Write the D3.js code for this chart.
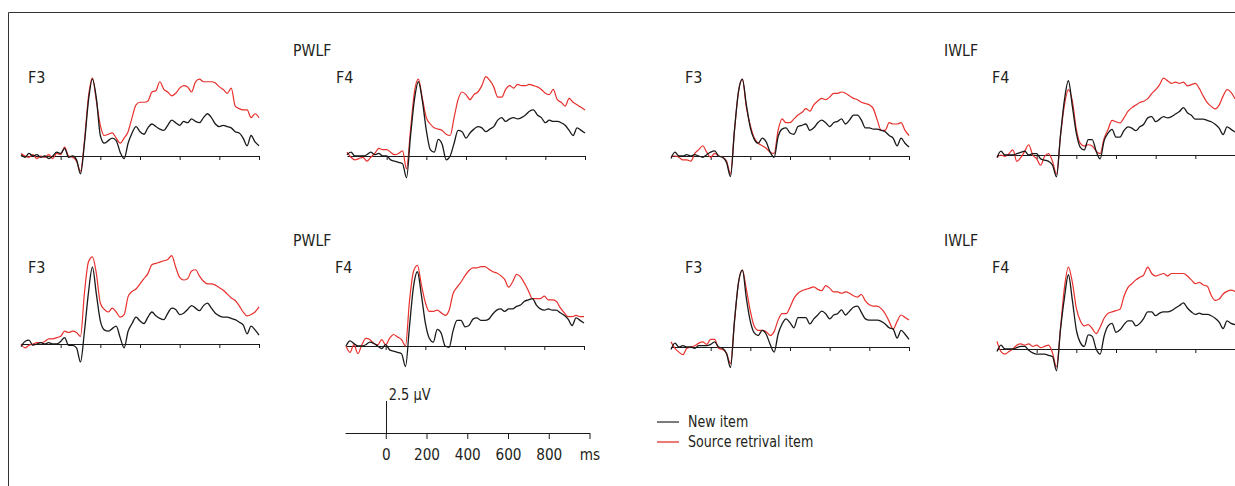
<!DOCTYPE html>
<html>
<head>
<meta charset="utf-8">
<script src="https://cdn.jsdelivr.net/npm/d3@7.9.0/dist/d3.min.js"></script>
<style>
  html, body { margin: 0; padding: 0; background: #fff; }
  svg { display: block; font-family: "Liberation Sans Narrow", "Arial Narrow", "DejaVu Sans Condensed", sans-serif; }
</style>
</head>
<body>
<svg id="chart" width="1235" height="486"></svg>
<script>
// --- data: ERP waveforms (µV), sampled every 20 ms from -200 to 1000 ms ---
const times = d3.range(-200, 1001, 20);
const tickTimes = [0, 200, 400, 600, 800, 1000];
const scaleTickLabels = ['0', '200', '400', '600', '800', 'ms'];
const conditions = ['PWLF', 'IWLF'];
const electrodes = ['F3', 'F4'];
const seriesNames = ['New item', 'Source retrival item'];
const scaleBarValue = 2.5;

// row 1
const r1PwlfF3New = [0.1, -0.1, 0.2, 0.0, 0.1, -0.1, 0.0, -0.2, 0.0, 0.3,
  0.2, 0.6, -0.1, 0.0, -0.3, -1.4, 1.0, 4.3, 6.0, 4.5,
  1.6, 1.0, 1.2, 1.4, 1.2, 0.3, -0.2, 1.0, 1.8, 2.3,
  1.9, 1.7, 2.2, 2.5, 2.3, 2.1, 2.0, 2.4, 2.8, 2.6,
  2.4, 2.7, 2.6, 2.9, 2.7, 2.6, 3.0, 3.3, 3.0, 2.5,
  2.3, 2.4, 2.3, 2.2, 1.9, 1.8, 1.4, 0.8, 1.6, 1.1, 0.8];
const r1PwlfF3Source = [0.2, 0.0, -0.1, 0.1, -0.2, 0.0, -0.1, 0.1, -0.2, 0.2,
  0.1, 0.7, 0.0, -0.1, -0.4, -1.2, 1.2, 4.6, 6.1, 4.3,
  2.4, 1.6, 1.7, 1.8, 1.4, 1.0, 1.4, 1.9, 3.0, 4.0,
  4.2, 4.2, 4.3, 5.0, 5.1, 5.8, 5.2, 5.0, 4.7, 4.9,
  5.3, 5.5, 5.4, 5.0, 5.8, 6.0, 5.8, 5.8, 5.8, 5.7,
  5.4, 5.2, 4.9, 5.3, 3.9, 3.7, 3.6, 3.6, 3.0, 3.3, 3.0];
const r1PwlfF4New = [0.1, 0.3, 0.0, 0.0, 0.0, 0.1, 0.3, 0.1, 0.2, 0.0,
  0.0, -0.3, -0.4, -0.5, -0.6, -1.7, 1.5, 4.4, 5.8, 4.3,
  2.0, 0.5, 0.3, 1.3, 0.9, -0.3, 0.0, 1.0, 2.0, 1.9,
  1.4, 1.8, 2.1, 2.3, 2.2, 1.9, 2.1, 2.3, 2.8, 3.0,
  2.7, 2.9, 3.0, 2.9, 3.0, 3.2, 3.5, 3.6, 3.2, 3.0,
  2.6, 2.8, 2.7, 2.7, 2.6, 2.4, 2.0, 1.6, 2.2, 2.0, 1.8];
const r1PwlfF4Source = [0.3, -0.1, -0.3, -0.2, -0.1, -0.4, -0.1, 0.2, 0.6, 0.5,
  0.5, 0.3, 0.1, 0.2, 0.4, -1.0, 2.0, 5.0, 6.0, 4.5,
  3.0, 2.5, 2.2, 2.1, 2.0, 1.7, 1.6, 3.0, 4.4, 5.0,
  4.8, 4.4, 4.8, 5.0, 5.5, 6.2, 5.9, 5.4, 4.6, 4.6,
  5.2, 5.5, 5.3, 5.6, 5.5, 5.5, 5.6, 5.5, 5.4, 5.2,
  4.9, 4.8, 5.2, 4.4, 4.2, 3.9, 4.5, 4.2, 4.0, 3.8, 3.6];
const r1IwlfF3New = [-0.2, 0.3, 0.0, 0.0, 0.1, 0.0, 0.1, 0.0, -0.1, 0.1,
  0.3, 0.4, 0.0, -0.1, -0.5, -1.6, 2.0, 5.0, 6.0, 4.0,
  2.2, 1.3, 1.0, 1.4, 1.1, 0.3, -0.1, 1.5, 2.1, 2.2,
  1.8, 1.7, 2.3, 2.4, 2.5, 2.0, 2.2, 2.6, 2.8, 2.6,
  2.3, 2.6, 2.7, 2.9, 2.5, 2.8, 3.2, 3.2, 2.8, 2.2,
  2.2, 2.1, 2.1, 2.0, 1.9, 1.6, 1.4, 0.8, 1.4, 1.0, 0.7];
const r1IwlfF3Source = [0.0, 0.0, -0.1, -0.3, -0.3, -0.4, 0.2, 0.5, 0.8, 0.3,
  -0.1, 0.2, 0.0, -0.1, -0.4, -1.4, 2.0, 5.0, 6.0, 3.8,
  2.4, 1.4, 1.0, 0.8, 0.6, 0.3, 0.2, 2.0, 2.9, 2.6,
  2.6, 2.9, 3.2, 3.4, 3.7, 3.5, 4.0, 4.3, 4.5, 4.4,
  4.6, 4.9, 4.9, 5.0, 4.9, 4.7, 4.5, 4.4, 4.2, 4.1,
  4.0, 3.7, 2.8, 2.0, 2.0, 2.6, 2.5, 2.5, 2.6, 2.0, 1.6];
const r1IwlfF4New = [-0.2, 0.3, 0.0, 0.0, 0.0, 0.1, 0.2, 0.3, 0.0, 0.1,
  0.1, -0.3, -0.4, -0.5, -0.8, -1.7, 1.5, 4.3, 5.8, 3.8,
  1.7, 0.6, 0.4, 1.2, 1.2, 0.3, -0.3, 1.1, 1.7, 2.0,
  1.4, 1.4, 1.9, 2.2, 2.1, 1.9, 2.2, 2.4, 2.9, 3.0,
  2.6, 2.8, 3.0, 2.9, 3.0, 3.2, 3.4, 3.7, 3.3, 3.1,
  2.8, 2.8, 2.8, 2.7, 2.6, 2.4, 2.1, 1.6, 2.2, 2.0, 1.8];
const r1IwlfF4Source = [-0.2, 0.0, -0.1, 0.1, 0.4, -0.5, -0.2, 0.3, 0.8, 0.0,
  -0.3, -0.8, -0.1, 0.1, -0.5, -1.5, 1.5, 3.9, 5.1, 4.2,
  2.0, 0.9, 0.7, 0.8, 0.7, 0.3, 0.1, 1.3, 2.0, 2.7,
  2.6, 2.5, 2.9, 3.4, 3.7, 3.9, 4.1, 4.2, 4.4, 4.8,
  5.1, 5.5, 6.0, 5.8, 5.6, 5.7, 5.6, 5.7, 5.4, 5.5,
  5.6, 5.2, 4.6, 4.1, 3.8, 3.6, 3.9, 4.6, 5.1, 4.9, 4.4];

// row 2
const r2PwlfF3New = [-0.2, 0.2, 0.3, -0.1, 0.0, 0.1, 0.0, 0.1, 0.0, 0.0,
  0.2, 0.5, -0.1, -0.1, -0.3, -1.4, 1.0, 4.0, 6.0, 3.9,
  1.8, 1.1, 1.0, 1.2, 1.4, 0.5, -0.3, 1.0, 1.6, 2.1,
  1.8, 1.6, 2.1, 2.5, 2.2, 2.0, 1.9, 2.4, 2.8, 2.7,
  2.3, 2.4, 2.7, 3.0, 2.8, 2.6, 3.0, 3.2, 2.8, 2.4,
  2.2, 2.1, 2.1, 2.0, 1.9, 1.7, 1.5, 0.8, 1.4, 1.1, 0.7];
const r2PwlfF3Source = [0.0, -0.3, -0.1, 0.0, 0.1, 0.1, 0.2, 0.4, 0.4, 0.5,
  0.6, 1.0, 0.9, 1.0, 0.9, 0.6, 4.0, 6.4, 6.8, 5.5,
  3.2, 2.7, 2.5, 2.8, 2.5, 2.1, 2.3, 3.7, 4.1, 4.3,
  4.7, 5.1, 5.5, 6.2, 6.3, 6.4, 6.5, 6.6, 6.9, 6.0,
  5.2, 5.0, 5.1, 5.7, 5.8, 5.3, 4.9, 4.7, 4.7, 4.6,
  4.4, 4.2, 3.9, 3.6, 3.4, 3.0, 2.5, 2.2, 2.3, 2.5, 2.9];
const r2PwlfF4New = [0.0, 0.4, 0.2, 0.0, 0.0, 0.1, 0.3, 0.2, 0.0, -0.2,
  0.1, -0.3, -0.4, -0.5, -0.6, -1.6, 1.5, 4.6, 5.8, 4.0,
  1.8, 0.6, 0.3, 1.3, 1.0, 0.0, -0.1, 1.2, 2.0, 2.0,
  1.5, 1.6, 2.1, 2.2, 2.0, 2.0, 2.1, 2.5, 2.8, 2.9,
  2.7, 2.9, 2.9, 3.1, 3.2, 3.5, 3.6, 3.7, 3.2, 2.9,
  2.8, 2.9, 2.8, 2.8, 2.6, 2.4, 2.1, 1.6, 2.2, 2.0, 1.8];
const r2PwlfF4Source = [0.0, -0.5, 0.1, -0.6, 0.1, 0.6, 0.5, 0.2, 0.1, 0.5,
  0.1, 0.6, 0.9, 0.7, 0.5, 0.0, 3.5, 5.8, 6.3, 4.8,
  3.4, 2.7, 2.7, 2.8, 2.6, 2.4, 2.8, 4.1, 4.6, 5.0,
  5.5, 5.9, 6.1, 6.1, 6.2, 6.2, 6.0, 5.8, 5.7, 5.5,
  5.2, 4.6, 5.0, 5.6, 5.4, 4.9, 4.3, 3.7, 3.7, 3.7,
  3.9, 3.6, 3.6, 3.5, 3.0, 2.6, 2.3, 2.3, 2.4, 2.3, 2.3];
const r2IwlfF3New = [-0.2, 0.3, 0.0, 0.1, 0.0, 0.0, -0.1, 0.1, 0.1, 0.1,
  0.2, 0.4, 0.0, -0.1, -0.5, -1.6, 2.0, 5.0, 6.0, 3.8,
  2.0, 1.1, 0.9, 1.3, 1.0, 0.2, -0.4, 1.0, 1.8, 2.2,
  1.9, 1.5, 2.3, 2.3, 2.3, 1.8, 2.2, 2.5, 2.8, 2.6,
  2.2, 2.5, 2.6, 2.9, 2.5, 2.8, 3.1, 3.2, 2.7, 2.2,
  2.1, 2.1, 2.1, 2.0, 1.8, 1.5, 1.4, 0.7, 1.3, 1.0, 0.6];
const r2IwlfF3Source = [0.4, -0.1, -0.4, -0.6, -0.1, 0.0, 0.1, 0.3, 0.4, 0.2,
  0.6, 0.6, -0.1, -0.2, -0.5, -1.3, 2.0, 5.0, 6.0, 4.5,
  2.8, 1.6, 1.3, 1.3, 1.2, 0.9, 1.2, 2.1, 2.6, 2.6,
  3.1, 3.8, 4.2, 4.4, 4.5, 4.6, 4.7, 4.5, 4.4, 4.8,
  4.6, 4.3, 4.3, 4.2, 4.3, 4.2, 4.0, 3.9, 4.1, 3.6,
  3.3, 3.2, 3.2, 3.0, 2.6, 2.0, 1.4, 2.0, 2.5, 2.3, 2.1];
const r2IwlfF4New = [-0.2, 0.3, 0.0, 0.0, 0.0, 0.1, 0.2, 0.2, -0.1, -0.3,
  -0.4, -0.4, -0.4, -0.5, -0.6, -1.7, 1.5, 4.0, 5.8, 3.8,
  1.5, 0.5, 0.2, 1.1, 1.0, 0.0, -0.4, 1.0, 1.8, 2.0,
  1.3, 1.5, 1.9, 2.2, 2.2, 1.8, 2.0, 2.4, 2.9, 2.9,
  2.6, 2.8, 2.9, 2.9, 3.0, 3.2, 3.4, 3.6, 3.2, 2.9,
  2.7, 2.8, 2.7, 2.7, 2.6, 2.4, 2.1, 1.6, 2.2, 2.0, 1.9];
const r2IwlfF4Source = [0.6, -0.2, -0.4, -0.2, 0.0, 0.3, 0.4, 0.3, 0.4, 0.2,
  0.3, 0.1, 0.2, 0.3, -0.3, -1.4, 1.6, 4.8, 6.4, 5.2,
  3.2, 2.2, 1.8, 1.9, 1.6, 1.2, 1.7, 2.4, 2.8, 2.9,
  3.0, 3.1, 4.1, 4.8, 5.1, 5.4, 5.6, 5.8, 6.4, 5.9,
  5.7, 5.8, 5.9, 5.7, 5.9, 5.9, 5.9, 5.9, 5.7, 5.4,
  5.1, 5.2, 5.0, 4.9, 4.2, 3.8, 3.9, 4.3, 4.5, 4.6, 4.5];

// --- layout ---
const W = 1235, H = 486;
const pxPerUv = 12.8;
const panelWidth = 238;
const textColor = '#231f20';
const newColor = '#1a1a1a';
const srcColor = '#e8302c';

const panels = [
  { label: electrodes[0], x0: 21,  y0: 156, newData: r1PwlfF3New, srcData: r1PwlfF3Source },
  { label: electrodes[1], x0: 347, y0: 156, newData: r1PwlfF4New, srcData: r1PwlfF4Source },
  { label: electrodes[0], x0: 671, y0: 156, newData: r1IwlfF3New, srcData: r1IwlfF3Source },
  { label: electrodes[1], x0: 997, y0: 155, newData: r1IwlfF4New, srcData: r1IwlfF4Source },
  { label: electrodes[0], x0: 21,  y0: 344, newData: r2PwlfF3New, srcData: r2PwlfF3Source },
  { label: electrodes[1], x0: 346, y0: 346, newData: r2PwlfF4New, srcData: r2PwlfF4Source },
  { label: electrodes[0], x0: 671, y0: 347, newData: r2IwlfF3New, srcData: r2IwlfF3Source },
  { label: electrodes[1], x0: 997, y0: 349, newData: r2IwlfF4New, srcData: r2IwlfF4Source }
];
const labelOffsets = [7, -11, 14, -5];   // electrode label x relative to panel start
const rowLabelY = [83, 273];
const conditionLabels = [
  { text: conditions[0], x: 293, y: 56 },
  { text: conditions[1], x: 944, y: 56 },
  { text: conditions[0], x: 293, y: 246 },
  { text: conditions[1], x: 944, y: 246 }
];

const svg = d3.select('#chart');

// narrow text: the fallback condensed font is wider than the original, squeeze it a little
function addText(x, y, str, squeeze = 1) {
  return svg.append('text')
    .attr('transform', `translate(${x},${y}) scale(${squeeze},1)`)
    .attr('font-size', 16)
    .attr('fill', textColor)
    .text(str);
}

// frame
svg.append('path')
  .attr('d', `M8.5,${H}V12.5H${W}`)
  .attr('fill', 'none')
  .attr('stroke', '#333')
  .attr('stroke-width', 1);

conditionLabels.forEach(c => addText(c.x, c.y, c.text, 0.98));

panels.forEach((p, i) => {
  const x = d3.scaleLinear().domain([-200, 1000]).range([p.x0, p.x0 + panelWidth]);
  const y = d3.scaleLinear().domain([0, 1]).range([p.y0, p.y0 - pxPerUv]);
  const g = svg.append('g');

  const axis = d3.axisBottom(x)
    .tickValues(tickTimes)
    .tickSize(4)
    .tickSizeOuter(0)
    .tickFormat('');
  const ax = g.append('g')
    .attr('transform', `translate(0,${p.y0})`)
    .call(axis);
  ax.select('.domain').attr('stroke', '#1a1a1a');
  ax.selectAll('.tick line').attr('stroke', '#1a1a1a');

  const line = d3.line()
    .x((d, k) => x(times[k]))
    .y(d => y(d))
    .curve(d3.curveMonotoneX);

  g.append('path')
    .attr('d', line(p.srcData))
    .attr('fill', 'none')
    .attr('stroke', srcColor)
    .attr('stroke-width', 1.2)
    .attr('stroke-linejoin', 'round');
  g.append('path')
    .attr('d', line(p.newData))
    .attr('fill', 'none')
    .attr('stroke', newColor)
    .attr('stroke-width', 1.3)
    .attr('stroke-linejoin', 'round');

  addText(p.x0 + labelOffsets[i % 4], rowLabelY[Math.floor(i / 4)], p.label);
});

// --- scale bar ---
const sx = d3.scaleLinear().domain([-200, 1000]).range([345, 589.5]);
const sy0 = 433;
const sbAxis = d3.axisBottom(sx)
  .tickValues(tickTimes)
  .tickSize(6)
  .tickSizeOuter(0)
  .tickPadding(9.5)
  .tickFormat((d, k) => scaleTickLabels[k]);
const sb = svg.append('g')
  .attr('transform', `translate(0,${sy0})`)
  .call(sbAxis);
sb.attr('font-family', null).attr('font-size', 16);
sb.select('.domain').attr('stroke', '#1a1a1a');
sb.selectAll('.tick line').attr('stroke', '#1a1a1a');
sb.selectAll('.tick text').attr('fill', textColor).attr('transform', 'scale(0.95,1)');

svg.append('line')
  .attr('x1', Math.round(sx(0)) + 0.5).attr('x2', Math.round(sx(0)) + 0.5)
  .attr('y1', sy0).attr('y2', sy0 - scaleBarValue * pxPerUv)
  .attr('stroke', '#1a1a1a');
addText(sx(0) + 3, 400, `${scaleBarValue} µV`, 0.9);

// --- legend ---
seriesNames.forEach((name, k) => {
  const ly = 422 + k * 20;
  svg.append('line')
    .attr('x1', 657).attr('x2', 679)
    .attr('y1', ly).attr('y2', ly)
    .attr('stroke', k === 0 ? '#333' : srcColor)
    .attr('stroke-width', 1.3);
  addText(688, ly + 5, name, 0.88);
});
</script>
</body>
</html>
